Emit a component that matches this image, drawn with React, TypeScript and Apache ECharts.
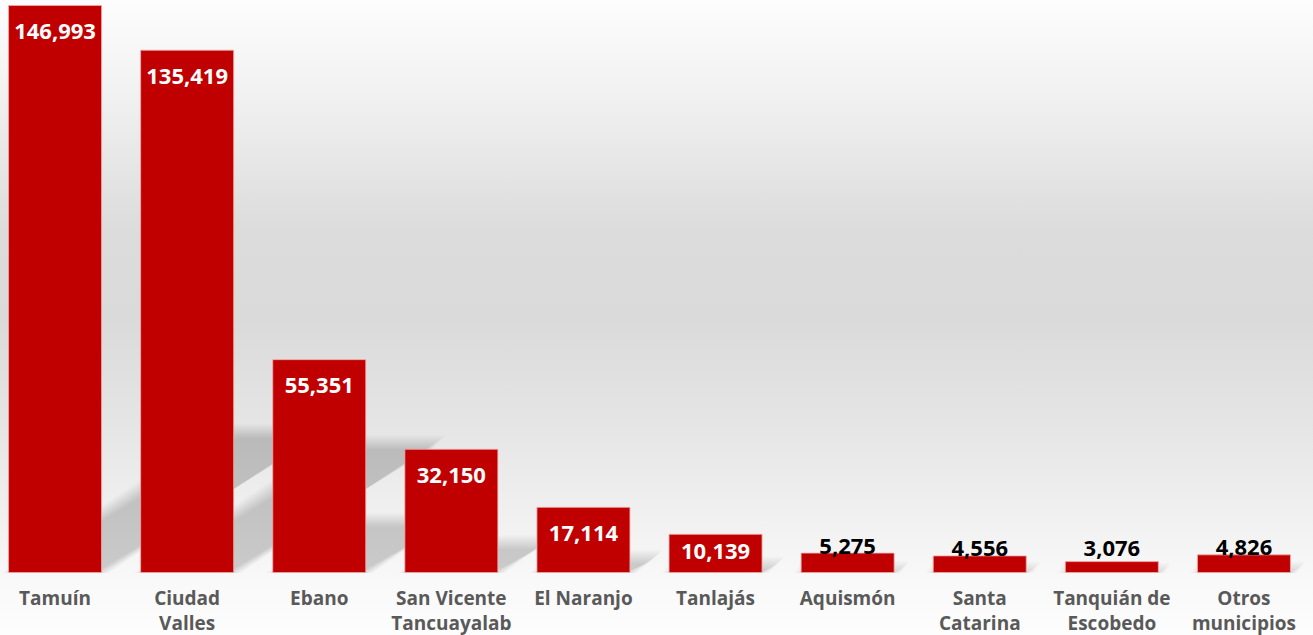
import React, { useEffect, useRef } from "react";
import * as echarts from "echarts";

const categories = [
  "Tamuín",
  "Ciudad\nValles",
  "Ebano",
  "San Vicente\nTancuayalab",
  "El Naranjo",
  "Tanlajás",
  "Aquismón",
  "Santa\nCatarina",
  "Tanquián de\nEscobedo",
  "Otros\nmunicipios",
];
const values = [146993, 135419, 55351, 32150, 17114, 10139, 5275, 4556, 3076, 4826];

const BAR_W = 94;

function labelFor(v: number) {
  if (v >= 10000) {
    return {
      show: true,
      position: "insideTop",
      distance: v > 15000 ? 14 : 5,
      color: "#ffffff",
    };
  }
  return {
    show: true,
    position: "top",
    distance: v < 4000 ? 3 : -3,
    color: "#000000",
  };
}

export default function App() {
  const ref = useRef<HTMLDivElement>(null);
  useEffect(() => {
    if (!ref.current) return;
    const chart = echarts.init(ref.current, undefined, { renderer: "svg" });
    const barData = values.map((v) => ({ value: v, label: labelFor(v) }));
    chart.setOption({
      animation: false,
      backgroundColor: new echarts.graphic.LinearGradient(0, 0, 0, 1, [
        { offset: 0, color: "#fdfdfd" },
        { offset: 0.15, color: "#f1f1f1" },
        { offset: 0.36, color: "#dcdcdc" },
        { offset: 0.5, color: "#dadada" },
        { offset: 0.68, color: "#e6e6e6" },
        { offset: 0.82, color: "#f1f1f1" },
        { offset: 0.92, color: "#f9f9f9" },
        { offset: 1, color: "#fdfdfd" },
      ]),
      grid: { left: 0, right: 3, top: 5, bottom: 62, containLabel: false },
      xAxis: {
        type: "category",
        data: categories,
        axisLine: { show: false },
        axisTick: { show: false },
        axisLabel: {
          interval: 0,
          margin: 12,
          color: "#595959",
          fontFamily: "Open Sans",
          fontWeight: "bold",
          fontSize: 19,
          lineHeight: 25,
        },
      },
      yAxis: {
        type: "value",
        min: 0,
        max: 147000,
        show: false,
        splitLine: { show: false },
      },
      series: [
        {
          type: "custom",
          z: 1,
          silent: true,
          data: values.map((v, i) => [i, v]),
          renderItem: (params: any, api: any) => {
            const i = api.value(0);
            const v = api.value(1);
            const base = api.coord([i, 0]);
            const top = api.coord([i, v]);
            const h = base[1] - top[1];
            const rise = h * 0.25;
            const dx = rise * 1.57;
            const by = base[1];
            const children: any[] = [];
            for (let d = -7; d <= 7; d++) {
              const x0 = base[0] - BAR_W / 2 - d;
              const x1 = base[0] + BAR_W / 2 + d;
              const ty = by - rise - d;
              if (ty >= by - 1) continue;
              children.push({
                type: "polygon",
                shape: {
                  points: [
                    [x0, by],
                    [x1, by],
                    [x1 + dx, ty],
                    [x0 + dx, ty],
                  ],
                },
                style: { fill: "rgba(0,0,0,0.013)" },
              });
            }
            return { type: "group", children };
          },
        },
        {
          type: "bar",
          z: 2,
          data: barData,
          barWidth: BAR_W,
          itemStyle: {
            color: "#C00000",
            borderColor: "rgba(240,170,170,0.8)",
            borderWidth: 1,
          },
          label: {
            fontFamily: "Open Sans",
            fontWeight: "bold",
            fontSize: 22,
            formatter: (p: any) => Number(p.value).toLocaleString("en-US"),
          },
        },
      ],
    });
    return () => chart.dispose();
  }, []);
  return (
    <div
      ref={ref}
      style={{ position: "absolute", left: -11, top: 0, width: 1324, height: 635 }}
    />
  );
}
